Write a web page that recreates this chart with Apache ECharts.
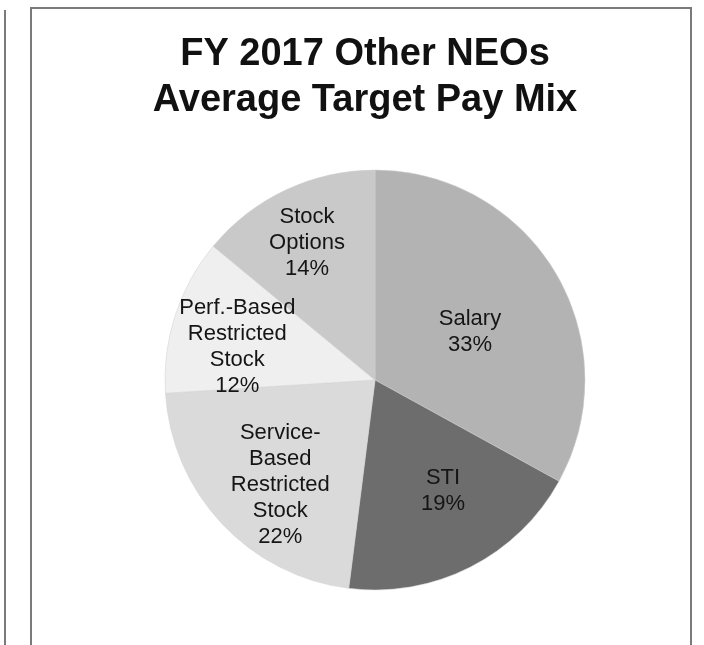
<!DOCTYPE html>
<html>
<head>
<meta charset="utf-8">
<script src="https://cdn.jsdelivr.net/npm/echarts@6/dist/echarts.min.js"></script>
<style>
  html, body { margin: 0; padding: 0; background: #fff; }
  #chart { width: 704px; height: 645px; }
</style>
</head>
<body>
<div id="chart"></div>
<script>
  // slices, clockwise from 12 o'clock
  var categories = ['Salary', 'STI', 'Service-\nBased\nRestricted\nStock', 'Perf.-Based\nRestricted\nStock', 'Stock\nOptions'];
  var shares = [33, 19, 22, 12, 14];
  var sliceColors = ['#b3b3b3', '#6d6d6d', '#dadada', '#efefef', '#c9c9c9'];

  // nudges for the in-slice labels (Excel "best fit" placement)
  var labelNudge = [[2, 7], [19, 15], [-16, 31], [-35, 0], [-22, -39]];

  var pieData = [];
  for (var i = 0; i < categories.length; i++) {
    pieData.push({
      name: categories[i],
      value: shares[i],
      itemStyle: { color: sliceColors[i] }
    });
  }

  var myChart = echarts.init(document.getElementById('chart'));
  var option = {
    backgroundColor: '#fff',
    animation: false,
    title: {
      text: 'FY 2017 Other NEOs\nAverage Target Pay Mix',
      left: 360,
      top: 27,
      textAlign: 'center',
      textStyle: {
        fontFamily: 'Liberation Sans, Arial, sans-serif',
        fontSize: 38,
        fontWeight: 'bold',
        lineHeight: 46,
        color: '#111'
      }
    },
    graphic: [
      { // frame of the panel
        type: 'rect',
        shape: { x: 31, y: 8, width: 660, height: 660 },
        style: { fill: null, stroke: '#7a7a7a', lineWidth: 2 },
        silent: true
      },
      { // edge of neighbouring panel
        type: 'line',
        shape: { x1: 5, y1: 10, x2: 5, y2: 645 },
        style: { stroke: '#7a7a7a', lineWidth: 2 },
        silent: true
      }
    ],
    series: [
      {
        type: 'pie',
        center: [375, 380],
        radius: 210,
        startAngle: 90,
        clockwise: true,
        data: pieData,
        itemStyle: { borderColor: '#d0d0d0', borderWidth: 0.5 },
        emphasis: { disabled: true },
        label: {
          show: true,
          position: 'inside',
          formatter: '{b}\n{c}%',
          fontFamily: 'Liberation Sans, Arial, sans-serif',
          fontSize: 22,
          lineHeight: 26,
          color: '#151515',
          align: 'center'
        },
        labelLine: { show: false },
        labelLayout: function (params) {
          var n = labelNudge[params.dataIndex];
          return { dx: n[0], dy: n[1] };
        }
      }
    ]
  };
  myChart.setOption(option);
</script>
</body>
</html>
